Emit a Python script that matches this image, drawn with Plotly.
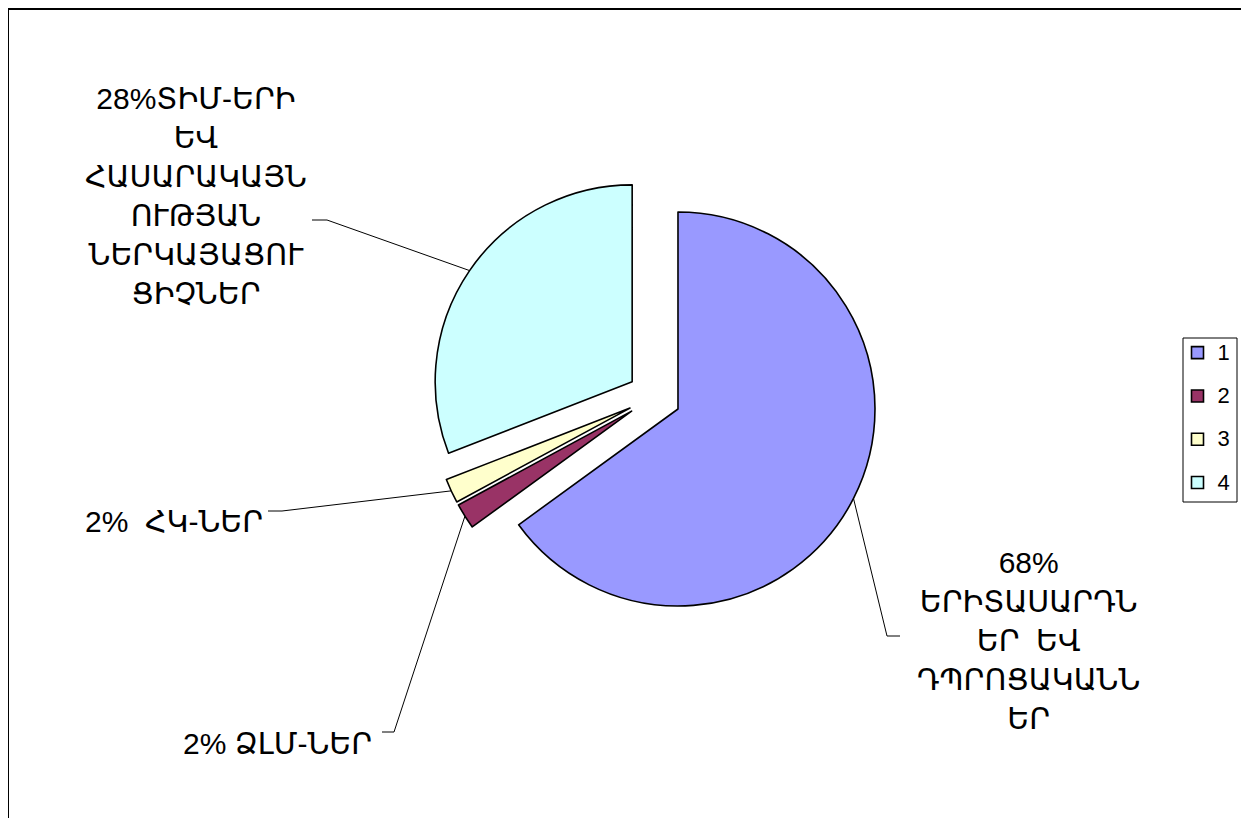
import math
import plotly.graph_objects as go

# ---------------- data ----------------
categories = ["1", "2", "3", "4"]
values = [65.0, 2.1, 2.0, 30.9]
colors = ["#9999FF", "#993366", "#FFFFCC", "#CCFFFF"]
label_lines = [
    ["68%", "ԵՐԻՏԱՍԱՐԴՆ", "ԵՐ\u00a0 ԵՎ", "ԴՊՐՈՑԱԿԱՆՆ", "ԵՐ"],
    ["2% ՁԼՄ-ՆԵՐ"],
    ["2%\u00a0 ՀԿ-ՆԵՐ"],
    ["28%ՏԻՄ-ԵՐԻ", "ԵՎ", "ՀԱՍԱՐԱԿԱՅՆ", "ՈՒԹՅԱՆ", "ՆԵՐԿԱՅԱՑՈՒ", "ՑԻՉՆԵՐ"],
]

# ---------------- layout constants (page pixels) ----------------
PAGE_W, PAGE_H = 1249, 818
OFF = 8                      # browser body margin
FW, FH = PAGE_W - OFF, PAGE_H - OFF
CX, CY, R, PULL = 654.2, 396.9, 197.0, 0.1355
FONT = "Arial, Liberation Sans, DejaVu Sans, sans-serif"
LABEL_SIZE = 30
label_centres = [(1028, 640), (277, 743), (174, 521), (196, 196)]
elbows = [(887, 636), (394, 732), (282, 511), (327, 220)]
line_ends = [(900, 636), (382, 732), (268, 511), (312, 220)]

box = 2 * R * (1 + PULL)
dom_x = [(CX - OFF - box / 2) / FW, (CX - OFF + box / 2) / FW]
dom_y = [1 - (CY - OFF + box / 2) / FH, 1 - (CY - OFF - box / 2) / FH]

fig = go.Figure()

fig.add_trace(go.Pie(
    labels=[f'<span style="font-size:22px;baseline-shift:5px">{c}</span>' for c in categories],
    values=values,
    sort=False,
    direction="clockwise",
    rotation=0,
    pull=[PULL] * len(values),
    marker=dict(colors=colors, line=dict(color="black", width=1.6)),
    textinfo="none",
    hoverinfo="percent",
    domain=dict(x=dom_x, y=dom_y),
    showlegend=True,
))

# leader lines: from the middle of each slice's arc to its label
total = sum(values)
cum = 0.0
for i, v in enumerate(values):
    mid = (cum + v / 2) / total * 2 * math.pi
    cum += v
    dist = R * (1 + PULL)
    ax = CX + dist * math.sin(mid)
    ay = CY - dist * math.cos(mid)
    ex, ey = elbows[i]
    lx, ly = line_ends[i]
    fig.add_trace(go.Scatter(
        x=[ax, ex, lx], y=[ay, ey, ly], mode="lines",
        line=dict(color="black", width=1), hoverinfo="skip", showlegend=False,
    ))

annotations = []
for (x, y), lines in zip(label_centres, label_lines):
    annotations.append(dict(
        x=x, y=y, xref="x", yref="y", text="<br>".join(lines), showarrow=False,
        align="center", xanchor="center", yanchor="middle",
        font=dict(family=FONT, size=LABEL_SIZE, color="black"),
    ))

fig.update_layout(
    width=FW, height=FH,
    margin=dict(l=0, r=0, t=0, b=0),
    paper_bgcolor="white", plot_bgcolor="white",
    xaxis=dict(range=[OFF, PAGE_W], visible=False, fixedrange=True),
    yaxis=dict(range=[PAGE_H, OFF], visible=False, fixedrange=True),
    annotations=annotations,
    shapes=[
        dict(type="rect", xref="x", yref="y", x0=8, y0=9, x1=1242, y1=840,
             line=dict(color="black", width=2), fillcolor="rgba(0,0,0,0)", layer="above"),
        dict(type="rect", xref="x", yref="y", x0=1183, y0=338, x1=1237, y1=502,
             line=dict(color="black", width=1), fillcolor="white", layer="above"),
    ],
    legend=dict(
        x=(1177.5 - OFF) / FW, xanchor="left", y=1 - (326 - OFF) / FH, yanchor="top",
        borderwidth=0, bgcolor="rgba(0,0,0,0)",
        font=dict(family=FONT, size=31, color="black"),
        itemwidth=30,
    ),
    showlegend=True,
)

fig.write_html("out.html")
